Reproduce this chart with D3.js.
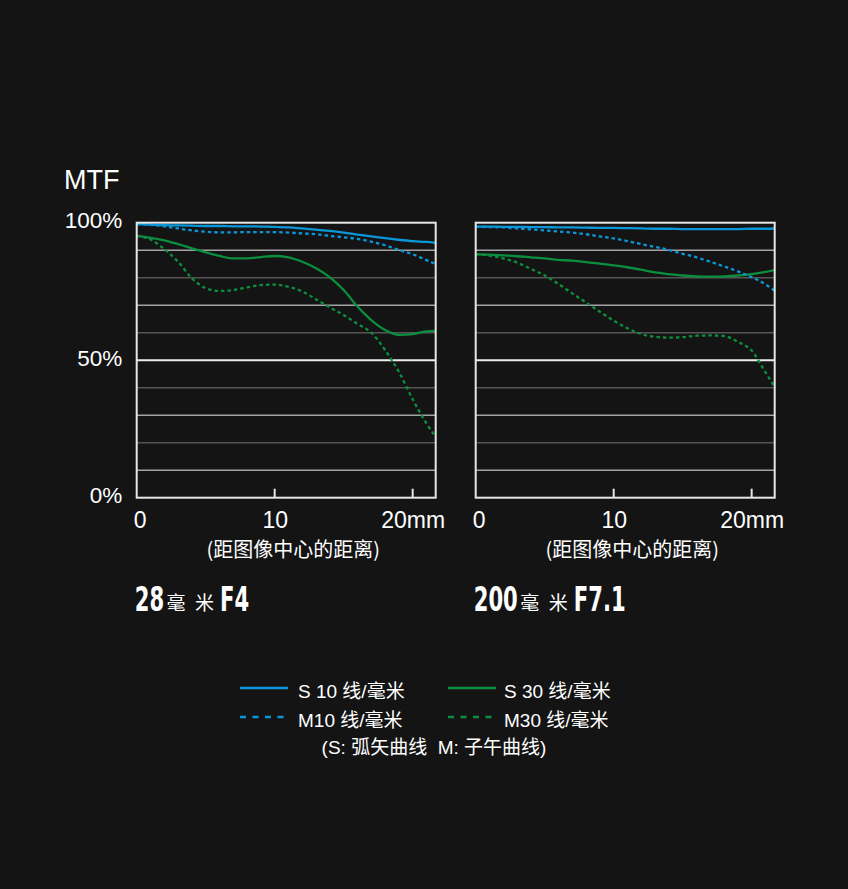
<!DOCTYPE html>
<html>
<head>
<meta charset="utf-8">
<script src="https://cdn.jsdelivr.net/npm/d3@7"></script>
<style>
  html, body { margin: 0; padding: 0; background: #141414; }
  svg { display: block; }
  text { white-space: pre; }
</style>
</head>
<body>
<script>
// ---------------- data ----------------
const distances = [0,1,2,3,4,5,6,7,8,9,10,11,12,13,14,15,16,17,18,19,20,21,21.65];

// 28mm F4
const wideS10 = [99.5,99.3,99.1,99.0,98.9,98.8,98.8,98.7,98.7,98.6,98.5,98.3,97.9,97.5,97.0,96.4,95.7,95.0,94.4,93.8,93.3,93.0,92.7];
const wideM10 = [99.5,99.2,98.7,97.9,97.2,96.7,96.5,96.5,96.6,96.6,96.6,96.4,96.1,95.8,95.2,94.7,94.1,93.1,91.8,90.1,88.5,86.4,85.0];
const wideS30 = [95.2,94.5,93.6,92.2,90.7,89.2,87.9,87.0,87.0,87.5,87.9,87.4,85.8,83.4,80.1,75.5,69.5,64.6,61.0,59.2,59.5,60.5,60.7];
const wideM30 = [95.2,93.9,90.4,85.8,79.8,76.2,75.2,75.5,76.5,77.3,77.5,76.7,75.0,72.1,69.2,66.4,63.2,60.0,53.7,45.8,35.8,27.0,22.2];

// 200mm F7.1
const teleS10 = [98.6,98.6,98.5,98.5,98.4,98.4,98.3,98.3,98.2,98.1,98.1,98.0,97.9,97.8,97.8,97.7,97.7,97.7,97.7,97.7,97.8,97.8,97.9];
const teleM10 = [98.5,98.4,98.3,97.9,97.6,97.2,96.8,96.4,95.8,95.0,94.3,93.3,92.2,91.2,90.1,88.7,87.4,85.8,84.1,82.3,80.2,77.6,75.3];
const teleS30 = [88.6,88.4,88.1,87.8,87.4,87.0,86.5,86.2,85.7,85.1,84.5,83.8,82.9,81.9,81.3,80.8,80.5,80.4,80.5,80.8,81.3,82.1,82.8];
const teleM30 = [88.6,88.0,87.0,85.5,83.2,80.8,77.7,74.3,71.0,67.6,64.4,61.6,59.5,58.5,58.2,58.4,58.9,59.0,58.8,56.7,53.5,45.6,40.4];

const xTickValues = [0, 10, 20];
const xTickLabels = ["0", "10", "20mm"];
const yGridValues = [10,20,30,40,50,60,70,80,90];
const yLabelValues = [0, 50, 100];
const yLabelTexts = ["0%", "50%", "100%"];

const wideTitle = {num: "28", f: "F4"};
const teleTitle = {num: "200", f: "F7.1"};
const mmChars = ["毫", "米"];
const axisCaption = "(距图像中心的距离)";
const yAxisTitle = "MTF";

const seriesNames = ["S10", "M10", "S30", "M30"];
const legendLabels = ["S 10 线/毫米", "M10 线/毫米", "S 30 线/毫米", "M30 线/毫米"];
const legendNote = "(S: 弧矢曲线  M: 子午曲线)";

// ---------------- styles ----------------
const BLUE = "#0a97d9";
const GREEN = "#0b8f3f";
const seriesStyle = {
  S10: {color: BLUE, dash: null},
  M10: {color: BLUE, dash: "3.5,3"},
  S30: {color: GREEN, dash: null},
  M30: {color: GREEN, dash: "3.5,3"}
};
const LATIN = "'Liberation Sans', Arial, 'Noto Sans CJK SC', sans-serif";
const BOLDF = "'DejaVu Sans', 'Liberation Sans', sans-serif";
const CJK = "'Noto Sans CJK SC', sans-serif";

const W = 848, H = 889;
const svg = d3.select("body").append("svg").attr("width", W).attr("height", H);
svg.append("rect").attr("width", W).attr("height", H).attr("fill", "#141414");

const plotTop = 222.7, plotBottom = 497.7, pw = 299;
const panels = [
  {left: 136.7, data: {S10: wideS10, M10: wideM10, S30: wideS30, M30: wideM30}, title: wideTitle, showY: true},
  {left: 475.7, data: {S10: teleS10, M10: teleM10, S30: teleS30, M30: teleM30}, title: teleTitle, showY: false}
];

const y = d3.scaleLinear().domain([0, 100]).range([plotBottom, plotTop]);

// condensed bold text piece, returns its advance width
function condensed(parent, x, yb, str) {
  const SX = 0.64;
  const g = parent.append("g").attr("transform", `translate(${x},${yb}) scale(${SX},1)`);
  const t = g.append("text").attr("fill", "#ffffff").attr("font-family", BOLDF)
    .attr("font-weight", "bold").attr("font-size", 33).text(str);
  return t.node().getComputedTextLength() * SX;
}

panels.forEach(p => {
  const x = d3.scaleLinear().domain([0, 21.67]).range([p.left, p.left + pw]);
  const g = svg.append("g");

  // gridlines
  g.selectAll("line.grid").data(yGridValues).enter().append("line")
    .attr("x1", x(0)).attr("x2", x(21.67))
    .attr("y1", d => y(d)).attr("y2", d => y(d))
    .attr("stroke", d => d === 50 ? "#ececec" : (d % 20 === 0 ? "#555555" : "#a3a3a3"))
    .attr("stroke-width", d => d === 50 ? 2 : 1.6);

  // curves
  const line = d3.line().x((d, i) => x(distances[i])).y(d => y(d)).curve(d3.curveMonotoneX);
  ["M30", "S30", "M10", "S10"].forEach(k => {
    g.append("path").attr("d", line(p.data[k]))
      .attr("fill", "none")
      .attr("stroke", seriesStyle[k].color)
      .attr("stroke-width", 2.3)
      .attr("stroke-dasharray", seriesStyle[k].dash);
  });

  // frame
  g.append("rect").attr("x", x(0)).attr("y", plotTop).attr("width", pw).attr("height", plotBottom - plotTop)
    .attr("fill", "none").attr("stroke", "#e6e6e6").attr("stroke-width", 2);

  // inner ticks
  g.selectAll("line.tick").data(xTickValues.filter(v => v > 0)).enter().append("line")
    .attr("x1", d => x(d)).attr("x2", d => x(d))
    .attr("y1", plotBottom).attr("y2", plotBottom - 9)
    .attr("stroke", "#e6e6e6").attr("stroke-width", 2);

  // x axis labels
  const xAxis = d3.axisBottom(x).tickValues(xTickValues)
    .tickFormat((d, i) => xTickLabels[i]).tickSize(0).tickPadding(0);
  const ax = g.append("g").attr("transform", `translate(0,${plotBottom})`).call(xAxis);
  ax.select(".domain").remove();
  ax.selectAll("text")
    .attr("fill", "#ffffff").attr("font-size", 23).attr("font-family", LATIN)
    .attr("y", 30.5).attr("dy", null)
    .attr("dx", d => d === 0 ? 3 : 0);

  // caption
  g.append("text").attr("x", x(11.35)).attr("y", 557)
    .attr("text-anchor", "middle").attr("fill", "#ffffff")
    .attr("font-size", 20).attr("font-family", CJK)
    .text(axisCaption);

  // y axis labels
  if (p.showY) {
    const yAxis = d3.axisLeft(y).tickValues(yLabelValues)
      .tickFormat((d, i) => yLabelTexts[i]).tickSize(0).tickPadding(14.5);
    const ay = g.append("g").attr("transform", `translate(${x(0)},0)`).call(yAxis);
    ay.select(".domain").remove();
    ay.selectAll("text").attr("fill", "#ffffff").attr("font-size", 22.5)
      .attr("font-family", LATIN).attr("dy", "0.22em");
  }

  // panel title
  let cx = x(0) - 2;
  const yb = 611;
  cx += condensed(g, cx, yb, p.title.num);
  cx += 2.5;
  const m1 = g.append("text").attr("x", cx).attr("y", yb - 1).attr("fill", "#ffffff")
    .attr("font-family", CJK).attr("font-size", 19).text(mmChars[0]);
  cx += m1.node().getComputedTextLength() + 9.5;
  const m2 = g.append("text").attr("x", cx).attr("y", yb - 1).attr("fill", "#ffffff")
    .attr("font-family", CJK).attr("font-size", 19).text(mmChars[1]);
  cx += m2.node().getComputedTextLength() + 6;
  condensed(g, cx, yb, p.title.f);
});

// MTF title
svg.append("text").attr("x", 64).attr("y", 189).attr("fill", "#ffffff")
  .attr("font-size", 27).attr("font-family", LATIN).text(yAxisTitle);

// legend
const legendPos = [
  {lx: 240, tx: 298, y: 688},
  {lx: 240, tx: 298, y: 717},
  {lx: 448, tx: 504, y: 688},
  {lx: 448, tx: 504, y: 717}
];
seriesNames.forEach((k, i) => {
  const pos = legendPos[i];
  svg.append("line").attr("x1", pos.lx).attr("x2", pos.lx + 48)
    .attr("y1", pos.y).attr("y2", pos.y)
    .attr("stroke", seriesStyle[k].color).attr("stroke-width", 2.3)
    .attr("stroke-dasharray", seriesStyle[k].dash ? "6,6.5" : null);
  svg.append("text").attr("x", pos.tx).attr("y", pos.y + 9.5).attr("fill", "#ffffff")
    .attr("font-size", 19).attr("font-family", LATIN).text(legendLabels[i]);
});
svg.append("text").attr("x", 434).attr("y", 754).attr("text-anchor", "middle")
  .attr("fill", "#ffffff").attr("font-size", 19).attr("font-family", LATIN).text(legendNote);
</script>
</body>
</html>
